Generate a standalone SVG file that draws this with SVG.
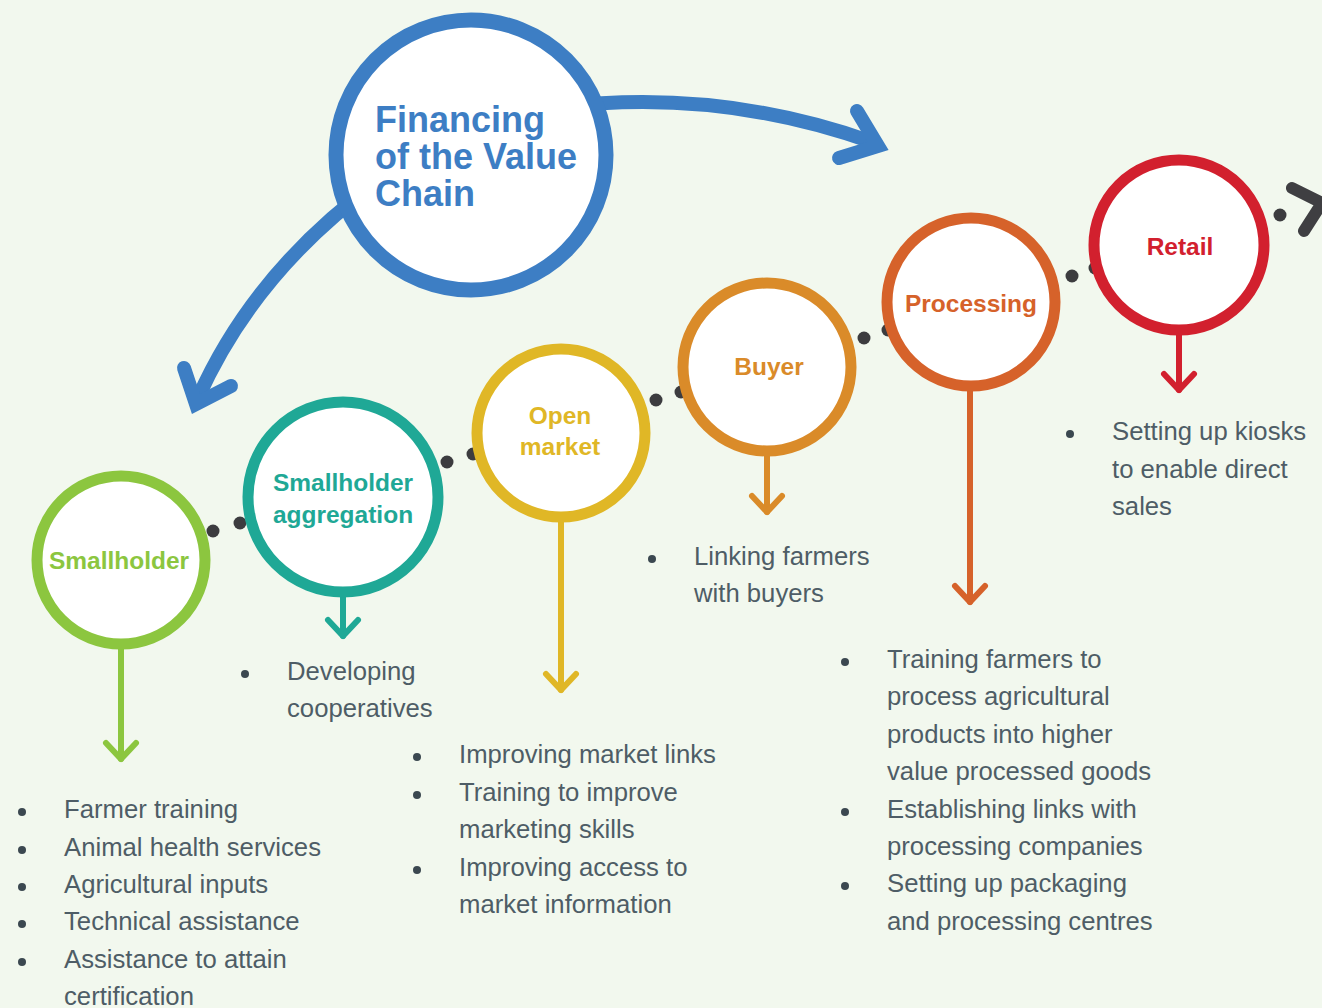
<svg xmlns="http://www.w3.org/2000/svg" width="1322" height="1008" viewBox="0 0 1322 1008">
<style>
.bg{fill:#F2F8EE}
.node{fill:#fff;stroke-width:11}
.lbl{font-family:"Liberation Sans",Arial,sans-serif;font-weight:bold;font-size:24.5px;text-anchor:middle}
.fin{font-family:"Liberation Sans",Arial,sans-serif;font-weight:bold;font-size:36px;fill:#3D7EC4}
.list{font-family:"Liberation Sans",Arial,sans-serif;font-size:25.7px;fill:#4E5D66}
.bul{fill:#3B4850}
.dot{fill:#3C3C3F}
.down{fill:none;stroke-width:6;stroke-linecap:round;stroke-linejoin:round}
.blue{fill:none;stroke:#3D7EC4;stroke-width:14}
</style>
<rect class="bg" x="0" y="0" width="1322" height="1008"/>
<g id="connectors">
  <path class="blue" d="M 560,107 Q 720,88 872,142"/>
  <polyline class="blue" points="857,111 878,146 839,158" stroke-linecap="round" stroke-linejoin="miter"/>
  <path class="blue" d="M 380,180 Q 255,270 198,398"/>
  <polyline class="blue" points="184,368 196,404 231,386" stroke-linecap="round" stroke-linejoin="miter"/>
  <g class="dot">
    <circle cx="213" cy="531" r="6.5"/><circle cx="240" cy="523" r="6.5"/>
    <circle cx="447" cy="462" r="6.5"/><circle cx="473" cy="454" r="6.5"/>
    <circle cx="656" cy="400" r="6.5"/><circle cx="681" cy="392" r="6.5"/>
    <circle cx="864" cy="338" r="6.5"/><circle cx="888" cy="330" r="6.5"/>
    <circle cx="1072" cy="276" r="6.5"/><circle cx="1095" cy="268" r="6.5"/>
    <circle cx="1280" cy="215" r="6.5"/>
  </g>
  <polyline points="1292,188 1322,203 1304,231" fill="none" stroke="#3F3F42" stroke-width="12" stroke-linecap="round" stroke-linejoin="miter"/>
  <g class="down" stroke="#8CC63F"><line x1="121" y1="640" x2="121" y2="759"/><polyline points="106,743 121,759 136,743"/></g>
  <g class="down" stroke="#1FA896"><line x1="343" y1="590" x2="343" y2="636"/><polyline points="328,620 343,636 358,620"/></g>
  <g class="down" stroke="#E0B726"><line x1="561" y1="515" x2="561" y2="690"/><polyline points="546,674 561,690 576,674"/></g>
  <g class="down" stroke="#DA8B29"><line x1="767" y1="450" x2="767" y2="512"/><polyline points="752,496 767,512 782,496"/></g>
  <g class="down" stroke="#D6622A"><line x1="970" y1="385" x2="970" y2="602"/><polyline points="955,586 970,602 985,586"/></g>
  <g class="down" stroke="#D2202E"><line x1="1179" y1="330" x2="1179" y2="390"/><polyline points="1164,374 1179,390 1194,374"/></g>
</g>
<g id="financing">
  <circle cx="471" cy="155" r="135" fill="#fff" stroke="#3D7EC4" stroke-width="15"/>
  <text class="fin" x="375" y="132">Financing</text>
  <text class="fin" x="375" y="169">of the Value</text>
  <text class="fin" x="375" y="206">Chain</text>
</g>
<g id="smallholder">
  <circle class="node" cx="121" cy="560" r="84" stroke="#8CC63F"/>
  <text class="lbl" x="119" y="569" fill="#8CC63F">Smallholder</text>
</g>
<g id="aggregation">
  <circle class="node" cx="343" cy="497" r="95" stroke="#1FA896"/>
  <text class="lbl" x="343" y="491" fill="#1FA896">Smallholder</text>
  <text class="lbl" x="343" y="523" fill="#1FA896">aggregation</text>
</g>
<g id="openmarket">
  <circle class="node" cx="561" cy="433" r="84" stroke="#E0B726"/>
  <text class="lbl" x="560" y="424" fill="#E0B726">Open</text>
  <text class="lbl" x="560" y="455" fill="#E0B726">market</text>
</g>
<g id="buyer">
  <circle class="node" cx="767" cy="367" r="84" stroke="#DA8B29"/>
  <text class="lbl" x="769" y="375" fill="#DA8B29">Buyer</text>
</g>
<g id="processing">
  <circle class="node" cx="971" cy="302" r="84" stroke="#D6622A"/>
  <text class="lbl" x="971" y="312" fill="#D6622A">Processing</text>
</g>
<g id="retail">
  <circle class="node" cx="1179" cy="245" r="85" stroke="#D2202E"/>
  <text class="lbl" x="1180" y="255" fill="#D2202E">Retail</text>
</g>
<g id="list-smallholder">
  <g class="bul"><circle cx="22" cy="812" r="4"/><circle cx="22" cy="850" r="4"/><circle cx="22" cy="887" r="4"/><circle cx="22" cy="924" r="4"/><circle cx="22" cy="962" r="4"/></g>
  <text class="list" x="64" y="818">Farmer training</text>
  <text class="list" x="64" y="856">Animal health services</text>
  <text class="list" x="64" y="893">Agricultural inputs</text>
  <text class="list" x="64" y="930">Technical assistance</text>
  <text class="list" x="64" y="968">Assistance to attain</text>
  <text class="list" x="64" y="1005">certification</text>
</g>
<g id="list-aggregation">
  <circle class="bul" cx="245" cy="674" r="4"/>
  <text class="list" x="287" y="680">Developing</text>
  <text class="list" x="287" y="717">cooperatives</text>
</g>
<g id="list-openmarket">
  <g class="bul"><circle cx="417" cy="757" r="4"/><circle cx="417" cy="795" r="4"/><circle cx="417" cy="870" r="4"/></g>
  <text class="list" x="459" y="763">Improving market links</text>
  <text class="list" x="459" y="801">Training to improve</text>
  <text class="list" x="459" y="838">marketing skills</text>
  <text class="list" x="459" y="876">Improving access to</text>
  <text class="list" x="459" y="913">market information</text>
</g>
<g id="list-buyer">
  <circle class="bul" cx="652" cy="559" r="4"/>
  <text class="list" x="694" y="565">Linking farmers</text>
  <text class="list" x="694" y="602">with buyers</text>
</g>
<g id="list-processing">
  <g class="bul"><circle cx="845" cy="662" r="4"/><circle cx="845" cy="812" r="4"/><circle cx="845" cy="886" r="4"/></g>
  <text class="list" x="887" y="668">Training farmers to</text>
  <text class="list" x="887" y="705">process agricultural</text>
  <text class="list" x="887" y="743">products into higher</text>
  <text class="list" x="887" y="780">value processed goods</text>
  <text class="list" x="887" y="818">Establishing links with</text>
  <text class="list" x="887" y="855">processing companies</text>
  <text class="list" x="887" y="892">Setting up packaging</text>
  <text class="list" x="887" y="930">and processing centres</text>
</g>
<g id="list-retail">
  <circle class="bul" cx="1070" cy="434" r="4"/>
  <text class="list" x="1112" y="440">Setting up kiosks</text>
  <text class="list" x="1112" y="478">to enable direct</text>
  <text class="list" x="1112" y="515">sales</text>
</g>
</svg>
